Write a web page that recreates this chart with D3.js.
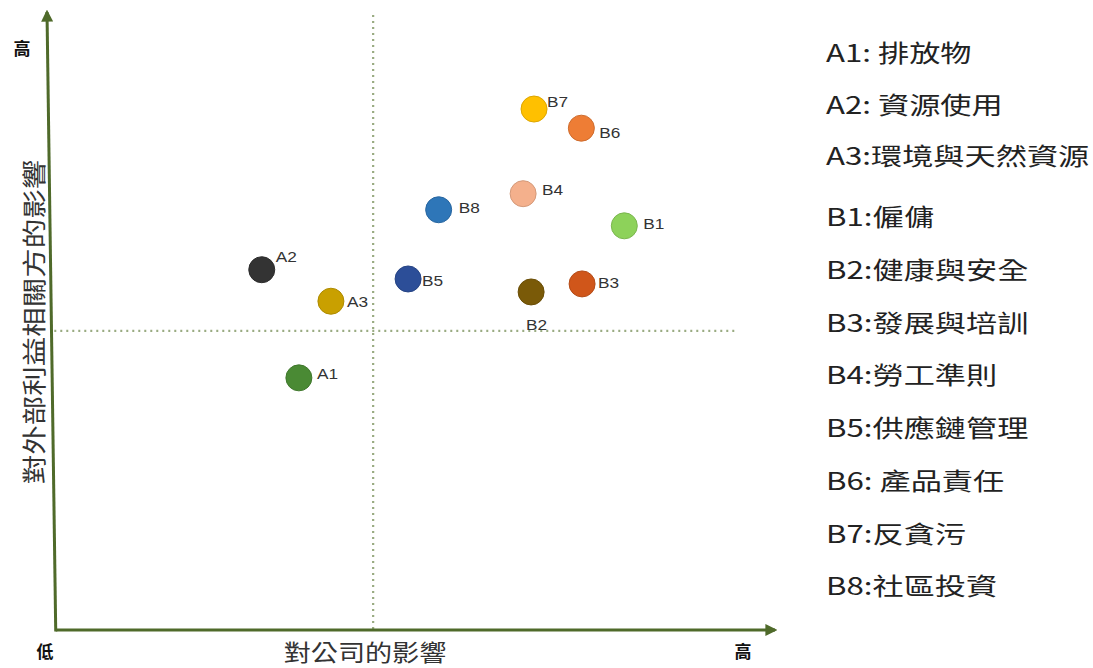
<!DOCTYPE html>
<html lang="zh-Hant">
<head>
<meta charset="UTF-8">
<title>重大性矩陣</title>
<script src="https://d3js.org/d3.v7.min.js"></script>
<style>
  body { margin: 0; background: #fff; }
  svg text { font-family: "Noto Sans CJK TC", "Noto Sans", sans-serif; }
</style>
</head>
<body>
<svg id="chart" width="1093" height="668"></svg>
<script>
'use strict';

// data (0-10 scale on both axes)
const codes   = ['A1', 'A2', 'A3', 'B1', 'B2', 'B3', 'B4', 'B5', 'B6', 'B7', 'B8'];
const names   = ['排放物', '資源使用', '環境與天然資源', '僱傭', '健康與安全', '發展與培訓', '勞工準則', '供應鏈管理', '產品責任', '反貪污', '社區投資'];
const legendSep = [' ', ' ', '', '', '', '', '', '', ' ', '', ''];
const impactCo  = [3.46, 2.95, 3.90, 7.93, 6.65, 7.35, 6.54, 4.96, 7.34, 6.69, 5.38];
const impactExt = [4.08, 5.83, 5.32, 6.54, 5.47, 5.60, 7.06, 5.68, 8.12, 8.43, 6.80];
const colors  = ['#4a8a34', '#333333', '#c9a000', '#8dd25a', '#7a5a08', '#d0561a', '#f4b08c', '#2c4e98', '#ee7d35', '#ffc000', '#2e76b8'];
const xSplit = 4.48, ySplit = 4.84;

const svg = d3.select('#chart');
const x = d3.scaleLinear().domain([0, 10]).range([47, 775]);
const y = d3.scaleLinear().domain([0, 10]).range([630, 12]);

const axisColor = '#4f6a2a';
svg.append('defs').append('marker')
    .attr('id', 'arrow').attr('viewBox', '0 0 10 10')
    .attr('refX', 8).attr('refY', 5)
    .attr('markerWidth', 4).attr('markerHeight', 4)
    .attr('orient', 'auto')
  .append('path').attr('d', 'M0,0 L10,5 L0,10 z').attr('fill', axisColor);

// quadrant dividers
svg.append('line')
    .attr('x1', x(xSplit)).attr('x2', x(xSplit))
    .attr('y1', y(9.95)).attr('y2', y(0))
    .attr('stroke', '#9aab82').attr('stroke-width', 2.2)
    .attr('stroke-dasharray', '2,4');
svg.append('line')
    .attr('x1', x(0.1)).attr('x2', x(9.45))
    .attr('y1', y(ySplit)).attr('y2', y(ySplit))
    .attr('stroke', '#9aab82').attr('stroke-width', 2.2)
    .attr('stroke-dasharray', '2,4');

// axes with arrows (the vertical one leans slightly in the original)
svg.append('line')
    .attr('x1', x(0.12)).attr('y1', y(0)).attr('x2', x(10)).attr('y2', y(0))
    .attr('stroke', axisColor).attr('stroke-width', 3)
    .attr('marker-end', 'url(#arrow)');
svg.append('line')
    .attr('x1', x(0.12)).attr('y1', y(0) + 1.5).attr('x2', x(0)).attr('y2', y(10))
    .attr('stroke', axisColor).attr('stroke-width', 3)
    .attr('marker-end', 'url(#arrow)');

// end labels
const endLabels = [
  { t: '高', px: 22, py: 47 },
  { t: '低', px: 45, py: 650 },
  { t: '高', px: 743, py: 650 }
];
svg.selectAll('.end').data(endLabels).enter().append('text')
    .attr('class', 'end')
    .attr('x', d => d.px).attr('y', d => d.py)
    .attr('text-anchor', 'middle').attr('dominant-baseline', 'central')
    .attr('font-size', 17).attr('font-weight', 'bold').attr('fill', '#111')
    .text(d => d.t);

// axis titles
svg.append('text')
    .attr('transform', 'translate(365,651) scale(1.18,1)')
    .attr('text-anchor', 'middle').attr('dominant-baseline', 'central')
    .attr('font-size', 23).attr('fill', '#333')
    .text('對公司的影響');
svg.append('text')
    .attr('transform', 'translate(33,322) rotate(-90) scale(1.23,1)')
    .attr('text-anchor', 'middle').attr('dominant-baseline', 'central')
    .attr('font-size', 24).attr('fill', '#333')
    .text('對外部利益相關方的影響');

// points
const pts = codes.map((c, i) => ({ code: c, xv: impactCo[i], yv: impactExt[i], color: colors[i] }));
svg.selectAll('circle.pt').data(pts).enter().append('circle')
    .attr('class', 'pt')
    .attr('cx', d => x(d.xv)).attr('cy', d => y(d.yv))
    .attr('r', 13)
    .attr('fill', d => d.color)
    .attr('stroke', d => d3.color(d.color).darker(0.4)).attr('stroke-width', 1);

// label offsets per point
const labelDx = { A1: 18, A2: 14, A3: 16, B1: 19, B2: -5, B3: 16, B4: 19, B5: 14, B6: 18, B7: 13, B8: 20 };
const labelDy = { A1: -4, A2: -13, A3: 0, B1: -2, B2: 32, B3: -1, B4: -4, B5: 1, B6: 4, B7: -8, B8: -2 };
svg.selectAll('text.pl').data(pts).enter().append('text')
    .attr('class', 'pl')
    .attr('transform', d => `translate(${x(d.xv) + labelDx[d.code]},${y(d.yv) + labelDy[d.code]}) scale(1.15,1)`)
    .attr('dominant-baseline', 'central')
    .attr('font-size', 15).attr('fill', '#333')
    .style('font-family', '"Liberation Sans", sans-serif')
    .text(d => d.code);

// legend
const legendY = (c, i) => c[0] === 'A' ? 52 + i * 51.5 : 216 + (i - 3) * 52.7;
svg.selectAll('text.lg').data(codes).enter().append('text')
    .attr('class', 'lg')
    .attr('transform', (c, i) => `translate(826,${legendY(c, i)}) scale(1.3,1)`)
    .attr('dominant-baseline', 'central')
    .attr('font-size', 24).attr('fill', '#222')
    .text((c, i) => c + ':' + legendSep[i] + names[i]);
</script>
</body>
</html>
